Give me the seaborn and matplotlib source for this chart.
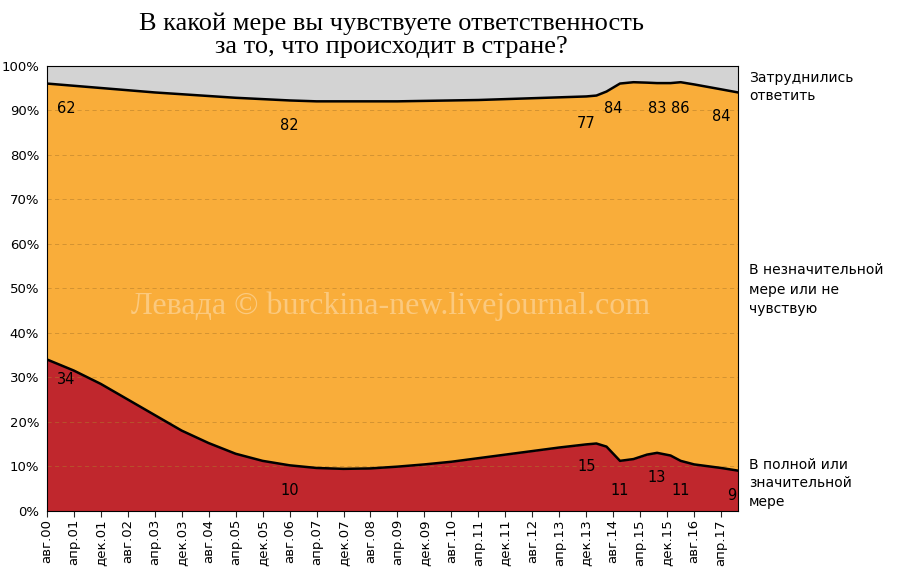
import numpy as np
import pandas as pd
import matplotlib
matplotlib.use("Agg")
import matplotlib.pyplot as plt
import seaborn as sns

# month index: 0 = авг.2000
months = [0, 8, 16, 24, 32, 40, 48, 56, 64, 72, 80, 88, 96, 104, 112, 120, 128, 136, 144, 152, 160, 163, 166, 170, 174, 178, 181, 185, 188, 192, 200, 205]
red = [34, 31.5, 28.5, 25, 21.5, 18, 15.2, 12.8, 11.2, 10.2, 9.6, 9.4, 9.5, 9.9, 10.4, 11.0, 11.8, 12.6, 13.4, 14.2, 14.9, 15.1, 14.4, 11.2, 11.6, 12.6, 13.0, 12.4, 11.2, 10.4, 9.6, 9.0]
top = [96, 95.5, 95, 94.5, 94, 93.6, 93.2, 92.8, 92.5, 92.2, 92.0, 92.0, 92.0, 92.0, 92.1, 92.2, 92.3, 92.5, 92.7, 92.9, 93.1, 93.3, 94.2, 96.0, 96.3, 96.2, 96.1, 96.1, 96.3, 95.8, 94.7, 94.0]
df = pd.DataFrame({"m": months, "red": red, "top": top})

tick_labels = ["авг.00", "апр.01", "дек.01", "авг.02", "апр.03", "дек.03", "авг.04", "апр.05", "дек.05",
               "авг.06", "апр.07", "дек.07", "авг.08", "апр.09", "дек.09", "авг.10", "апр.11", "дек.11",
               "авг.12", "апр.13", "дек.13", "авг.14", "апр.15", "дек.15", "авг.16", "апр.17"]

lab_m = [3, 72, 160, 168, 181, 188, 200]
lab_orange = ["62", "82", "77", "84", "83", "86", "84"]
lab_oy = [90.5, 86.5, 87, 90.5, 90.5, 90.5, 88.5]
lab_red_m = [3, 72, 160, 170, 181, 188, 203]
lab_red = ["34", "10", "15", "11", "13", "11", "9"]
lab_ry = [29.5, 4.5, 10, 4.5, 7.5, 4.5, 3.5]

sns.set_style("white")
fig = plt.figure(figsize=(9, 5.87), dpi=100)
ax = fig.add_axes([0.052, 0.13, 0.768, 0.758])

ax.fill_between(df.m, 0, df.red, color="#C0272D", lw=0)
ax.fill_between(df.m, df.red, df.top, color="#F9AD3A", lw=0)
ax.fill_between(df.m, df.top, 100, color="#D3D3D3", lw=0)
sns.lineplot(data=df, x="m", y="red", ax=ax, color="black", lw=1.8)
sns.lineplot(data=df, x="m", y="top", ax=ax, color="black", lw=1.8)

for v in range(10, 100, 10):
    ax.axhline(v, color="#B07A2A", lw=0.6, ls=(0, (5, 4)), alpha=0.6, zorder=1.5)

ax.set_xlim(0, 205)
ax.set_ylim(0, 100)
ax.set_xticks(np.arange(0, 201, 8))
ax.set_xticklabels(tick_labels, rotation=90, fontsize=9.5, color="black")
ax.set_yticks(np.arange(0, 101, 10))
ax.set_yticklabels([f"{v}%" for v in range(0, 101, 10)], fontsize=9.5, color="black")
ax.set_xlabel("")
ax.set_ylabel("")
ax.tick_params(axis="x", length=4, direction="out", bottom=True, pad=2)
ax.tick_params(axis="y", pad=2)
for s in ax.spines.values():
    s.set_color("black")
    s.set_linewidth(0.8)

for m, t, y in zip(lab_m, lab_orange, lab_oy):
    ax.text(m, y, t, fontsize=10.5, ha="left" if m < 10 else "center", va="center", color="black")
for m, t, y in zip(lab_red_m, lab_red, lab_ry):
    ax.text(m, y, t, fontsize=10.5, ha="left" if m < 10 else "center", va="center", color="black")

ax.text(102, 46, "Левада © burckina-new.livejournal.com", fontsize=23, family="Liberation Serif",
        color="white", alpha=0.35, ha="center", va="center")

fig.text(0.832, 0.852, "Затруднились\nответить", fontsize=10, va="center", linespacing=1.4, color="black")
fig.text(0.832, 0.506, "В незначительной\nмере или не\nчувствую", fontsize=10, va="center", linespacing=1.5, color="black")
fig.text(0.832, 0.177, "В полной или\nзначительной\nмере", fontsize=10, va="center", linespacing=1.4, color="black")

fig.text(0.435, 0.94, "В какой мере вы чувствуете ответственность\nза то, что происходит в стране?",
         fontsize=19, family="Liberation Serif", ha="center", va="center", linespacing=1.05, color="black")

fig.savefig("out.png", dpi=100)
